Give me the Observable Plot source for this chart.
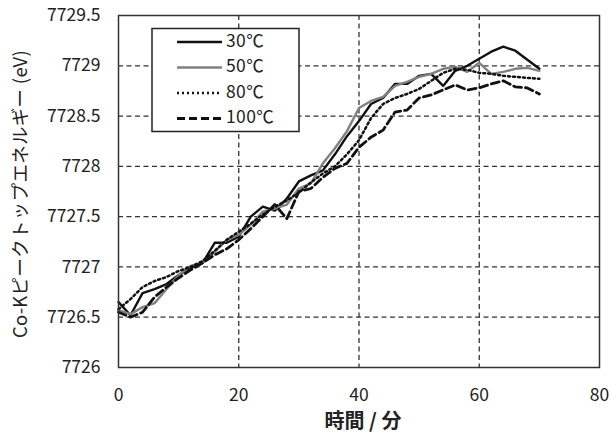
<!DOCTYPE html>
<html>
<head>
<meta charset="utf-8">
<script src="https://cdn.jsdelivr.net/npm/d3@7"></script>
<script src="https://cdn.jsdelivr.net/npm/@observablehq/plot@0.6"></script>
<style>
  html, body { margin: 0; padding: 0; background: #fff; }
  #chart svg { display: block; }
</style>
</head>
<body>
<div id="chart"></div>
<script>
const time = [0,2,4,6,8,10,12,14,16,18,20,22,24,26,28,30,32,34,36,38,40,42,44,46,48,50,52,54,56,58,60,62,64,66,68,70];
const v30 = [7726.65,7726.52,7726.74,7726.78,7726.83,7726.92,7726.99,7727.04,7727.24,7727.24,7727.30,7727.50,7727.60,7727.56,7727.68,7727.85,7727.91,7727.96,7728.12,7728.30,7728.45,7728.62,7728.68,7728.82,7728.82,7728.90,7728.92,7728.80,7728.95,7729.00,7729.07,7729.14,7729.19,7729.15,7729.06,7728.97];
const v50 = [7726.57,7726.53,7726.60,7726.64,7726.78,7726.92,7727.01,7727.04,7727.15,7727.27,7727.32,7727.42,7727.55,7727.58,7727.62,7727.78,7727.83,7728.03,7728.18,7728.35,7728.58,7728.65,7728.69,7728.80,7728.84,7728.89,7728.92,7728.97,7728.99,7728.94,7729.03,7728.92,7728.94,7728.97,7728.98,7728.95];
const v80 = [7726.58,7726.68,7726.80,7726.86,7726.90,7726.96,7727.00,7727.06,7727.16,7727.27,7727.35,7727.43,7727.52,7727.60,7727.66,7727.74,7727.84,7727.93,7728.00,7728.12,7728.26,7728.48,7728.62,7728.68,7728.72,7728.77,7728.85,7728.93,7728.97,7728.96,7728.93,7728.92,7728.90,7728.89,7728.88,7728.87];
const v100 = [7726.55,7726.50,7726.55,7726.70,7726.80,7726.89,7726.97,7727.04,7727.12,7727.18,7727.27,7727.38,7727.50,7727.62,7727.48,7727.75,7727.78,7727.89,7727.98,7728.03,7728.19,7728.29,7728.36,7728.54,7728.56,7728.68,7728.71,7728.76,7728.81,7728.76,7728.78,7728.82,7728.85,7728.79,7728.78,7728.72];
const seriesNames = ["30℃","50℃","80℃","100℃"];
const xTicks = [0,20,40,60,80];
const yTicks = [7726,7726.5,7727,7727.5,7728,7728.5,7729,7729.5];
const xLabel = "時間 / 分";
const yLabel = "Co-Kピークトップエネルギー (eV)";

const styles = [
  {stroke: "#111", strokeWidth: 2.4},
  {stroke: "#808080", strokeWidth: 2.4},
  {stroke: "#111", strokeWidth: 2.5, strokeDasharray: "2,3"},
  {stroke: "#111", strokeWidth: 2.8, strokeDasharray: "8,4"}
];
const seriesVals = [v30, v50, v80, v100];
const tables = seriesVals.map((vals, i) => time.map((t, j) => ({t, v: vals[j], s: seriesNames[i]})));

const plot = Plot.plot({
  width: 611,
  height: 439,
  marginLeft: 118,
  marginRight: 12,
  marginTop: 15,
  marginBottom: 72,
  style: {fontFamily: "'Noto Sans CJK JP', 'Noto Sans', sans-serif", fontSize: "17px", color: "#222", background: "#fff"},
  x: {domain: [0, 80]},
  y: {domain: [7726, 7729.5]},
  marks: [
    Plot.gridX(xTicks.filter(d => d > 0 && d < 80), {stroke: "#333", strokeOpacity: 1, strokeWidth: 1.3, strokeDasharray: "5,3.5"}),
    Plot.gridY(yTicks.filter(d => d > 7726 && d < 7729.5), {stroke: "#333", strokeOpacity: 1, strokeWidth: 1.3, strokeDasharray: "5,3.5"}),
    Plot.axisX(xTicks, {tickSize: 0, tickPadding: 21, label: null, fontSize: 17.5}),
    Plot.axisY(yTicks, {tickSize: 0, tickPadding: 18, label: null, fontSize: 17.5, tickFormat: d => String(d)}),
    ...tables.map((tb, i) => Plot.line(tb, {x: "t", y: "v", ...styles[i]})),
    Plot.frame({stroke: "#333", strokeWidth: 1.5})
  ]
});
document.getElementById("chart").appendChild(plot);

const svg = d3.select(plot);
// axis titles
svg.append("text")
  .attr("transform", "translate(22,194) rotate(-90)")
  .attr("text-anchor", "middle")
  .attr("dominant-baseline", "middle")
  .attr("font-size", 18.5)
  .attr("letter-spacing", 0.3)
  .attr("fill", "#222")
  .text(yLabel);
svg.append("text")
  .attr("x", 363)
  .attr("y", 423)
  .attr("text-anchor", "middle")
  .attr("dominant-baseline", "middle")
  .attr("font-size", 20)
  .attr("font-weight", "bold")
  .attr("fill", "#222")
  .text(xLabel);
// legend
const lg = svg.append("g");
lg.append("rect").attr("x", 152).attr("y", 28.5).attr("width", 147).attr("height", 103)
  .attr("fill", "#fff").attr("stroke", "#222").attr("stroke-width", 1.5);
seriesNames.forEach((name, i) => {
  const y = 42 + 25.5 * i;
  const st = styles[i];
  const ln = lg.append("line").attr("x1", 177).attr("x2", 222).attr("y1", y).attr("y2", y)
    .attr("stroke", st.stroke).attr("stroke-width", st.strokeWidth);
  if (st.strokeDasharray) ln.attr("stroke-dasharray", st.strokeDasharray);
  lg.append("text").attr("x", 226).attr("y", y).attr("text-anchor", "start").attr("dominant-baseline", "middle")
    .attr("font-size", 17.5).attr("letter-spacing", 0.4).attr("fill", "#222").text(name);
});
</script>
</body>
</html>
